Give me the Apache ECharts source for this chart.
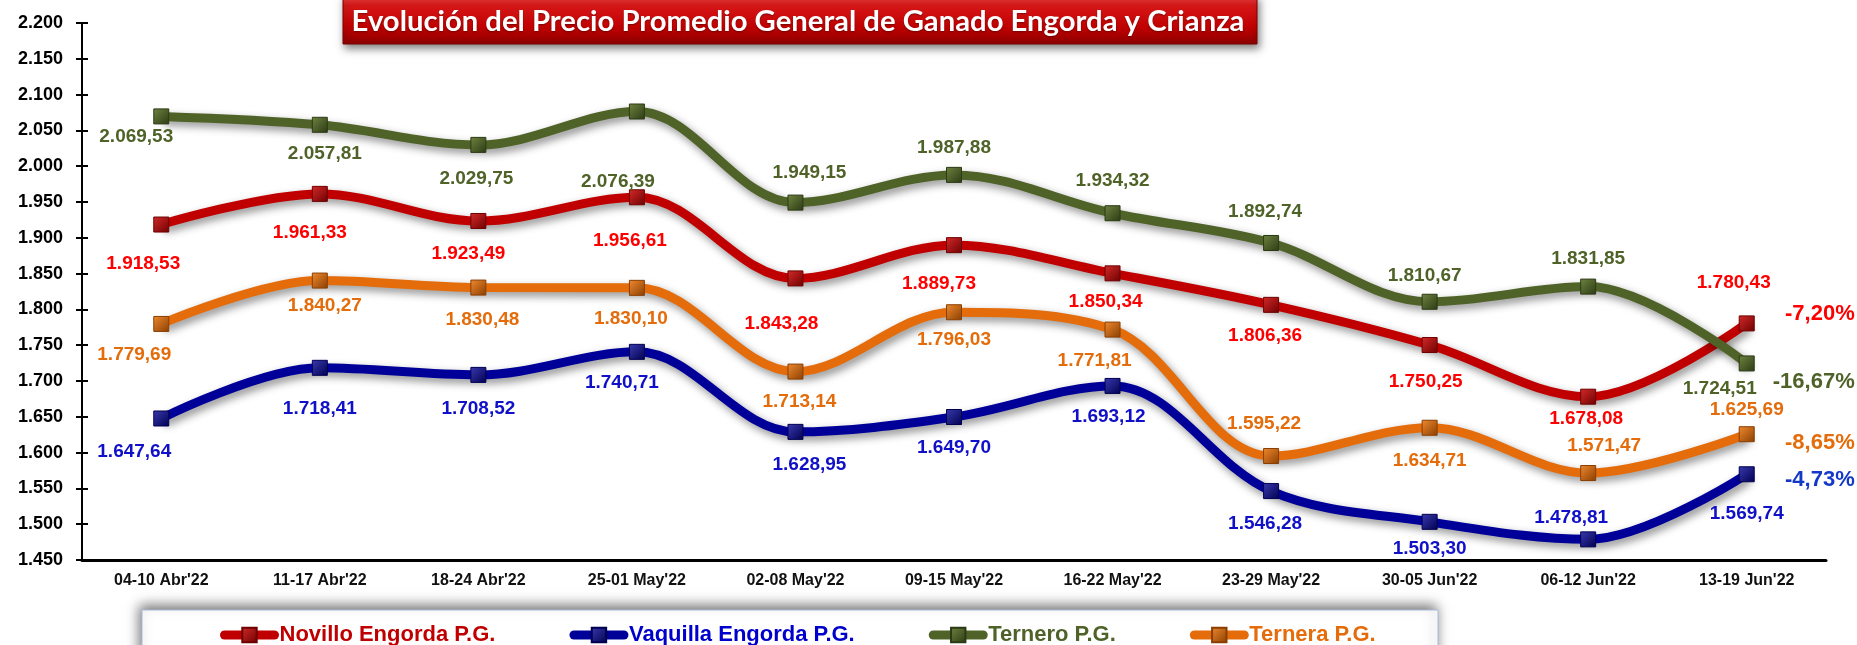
<!DOCTYPE html>
<html lang="es">
<head>
    <meta charset="UTF-8">
    <title>Evolución del Precio Promedio General de Ganado Engorda y Crianza</title>
    <script src="https://cdn.jsdelivr.net/npm/echarts@6/dist/echarts.min.js"></script>
    <style>
        body { margin: 0; background: #fff; }
        #chart { width: 1857px; height: 645px; }
    </style>
</head>
<body>
<div id="chart"></div>
<script type="text/javascript">
    var semanas = ["04-10 Abr'22", "11-17 Abr'22", "18-24 Abr'22", "25-01 May'22", "02-08 May'22", "09-15 May'22",
        "16-22 May'22", "23-29 May'22", "30-05 Jun'22", "06-12 Jun'22", "13-19 Jun'22"];

    var novillo = [1918.53, 1961.33, 1923.49, 1956.61, 1843.28, 1889.73, 1850.34, 1806.36, 1750.25, 1678.08, 1780.43];
    var vaquilla = [1647.64, 1718.41, 1708.52, 1740.71, 1628.95, 1649.70, 1693.12, 1546.28, 1503.30, 1478.81, 1569.74];
    var ternero = [2069.53, 2057.81, 2029.75, 2076.39, 1949.15, 1987.88, 1934.32, 1892.74, 1810.67, 1831.85, 1724.51];
    var ternera = [1779.69, 1840.27, 1830.48, 1830.10, 1713.14, 1796.03, 1771.81, 1595.22, 1634.71, 1571.47, 1625.69];

    // posicion de cada etiqueta respecto al punto [dx, dy]
    var offNovillo = [[-18, 39], [-10, 39], [-10, 33], [-7, 43], [-14, 45], [-15, 39], [-7, 28], [-6, 31], [-4, 37], [-2, 22], [-13, -41]];
    var offVaquilla = [[-27, 33], [0, 41], [0, 34], [-15, 31], [14, 33], [0, 31], [-4, 31], [-6, 33], [0, 27], [-17, -22], [0, 39]];
    var offTernero = [[-25, 20], [5, 29], [-2, 34], [-19, 70], [14, -30], [0, -27], [0, -32], [-6, -31], [-5, -26], [0, -28], [-27, 25]];
    var offTernera = [[-27, 31], [5, 25], [4, 32], [-6, 31], [4, 30], [0, 28], [-18, 31], [-7, -32], [0, 33], [16, -27], [0, -24]];

    var FONT = '"Liberation Sans", Arial, sans-serif';

    function fmt(v) {
        var s = v.toFixed(2).split('.');
        return s[0].replace(/\B(?=(\d{3})+(?!\d))/g, '.') + ',' + s[1];
    }

    function variacion(arr) {
        var p = (arr[arr.length - 1] / arr[0] - 1) * 100;
        return p.toFixed(2).replace('.', ',') + '%';
    }

    function serie(nombre, valores, offsets, linea, marca, texto, pctColor, pctDy) {
        var last = valores.length - 1;
        return {
            name: nombre,
            type: 'line',
            smooth: 0.35,
            symbol: 'rect',
            symbolSize: 15,
            color: linea,
            lineStyle: {
                width: 9,
                color: linea,
                shadowColor: 'rgba(0,0,0,0.45)',
                shadowBlur: 8,
                shadowOffsetX: 3,
                shadowOffsetY: 4
            },
            itemStyle: {
                color: {
                    type: 'linear', x: 0, y: 0, x2: 1, y2: 1,
                    colorStops: [{offset: 0, color: marca[0]}, {offset: 1, color: marca[1]}]
                },
                borderColor: marca[1],
                borderWidth: 1
            },
            label: {
                show: true,
                position: 'inside',
                color: texto,
                fontFamily: FONT,
                fontWeight: 'bold',
                fontSize: 19,
                formatter: function (p) { return fmt(p.value); }
            },
            data: valores.map(function (v, i) {
                return {value: v, label: {offset: offsets[i]}};
            }),
            markPoint: {
                symbol: 'rect',
                symbolSize: 1,
                itemStyle: {color: 'rgba(0,0,0,0)'},
                label: {
                    show: true,
                    position: 'inside',
                    align: 'right',
                    verticalAlign: 'middle',
                    offset: [108, pctDy],
                    color: pctColor,
                    fontFamily: FONT,
                    fontWeight: 'bold',
                    fontSize: 22,
                    formatter: variacion(valores)
                },
                data: [{coord: [last, valores[last]], value: 0}]
            }
        };
    }

    var titulo = 'Evolución del Precio Promedio General de Ganado Engorda y Crianza';
    var tituloFont = 'Lato, "Open Sans", sans-serif';
    var ctx = document.createElement('canvas').getContext('2d');
    ctx.font = 'bold 30px ' + tituloFont;
    var tituloSize = Math.min(32, 30 * 893 / ctx.measureText(titulo).width);

    var myChart = echarts.init(document.getElementById('chart'));
    var option = {
        animation: false,
        backgroundColor: '#fff',
        grid: {left: 82, right: 31, top: 23, bottom: 85},
        graphic: [
            {
                type: 'rect',
                z: 0,
                shape: {x: 142, y: 610, width: 1296, height: 60},
                style: {
                    fill: '#fff',
                    stroke: '#a9bbdb',
                    lineWidth: 1,
                    shadowColor: 'rgba(0,0,0,0.55)',
                    shadowBlur: 12,
                    shadowOffsetX: -2,
                    shadowOffsetY: -4
                }
            },
            {
                type: 'rect',
                z: 10,
                shape: {x: 343, y: -4, width: 914, height: 48},
                style: {
                    fill: {
                        type: 'linear', x: 0, y: 0, x2: 0, y2: 1,
                        colorStops: [
                            {offset: 0, color: '#f04848'},
                            {offset: 0.2, color: '#d81818'},
                            {offset: 0.65, color: '#c00000'},
                            {offset: 1, color: '#8c0000'}
                        ]
                    },
                    stroke: '#7a0000',
                    lineWidth: 1,
                    shadowColor: 'rgba(0,0,0,0.5)',
                    shadowBlur: 8,
                    shadowOffsetX: 2,
                    shadowOffsetY: 4
                }
            },
            {
                type: 'text',
                z: 11,
                style: {
                    text: titulo,
                    x: 798,
                    y: 22,
                    align: 'center',
                    verticalAlign: 'middle',
                    fill: '#fff',
                    fontFamily: tituloFont,
                    fontWeight: 'bold',
                    fontSize: tituloSize,
                    textShadowColor: 'rgba(0,0,0,0.4)',
                    textShadowBlur: 2,
                    textShadowOffsetY: 1
                }
            }
        ],
        legend: {
            left: 215,
            top: 619,
            itemWidth: 50,
            itemHeight: 18,
            itemGap: 74,
            lineStyle: {width: 9, cap: 'round'},
            textStyle: {fontFamily: FONT, fontWeight: 'bold', fontSize: 22},
            data: [
                {name: 'Novillo Engorda P.G.', textStyle: {color: '#c00000'}},
                {name: 'Vaquilla Engorda P.G.', textStyle: {color: '#0000cc'}},
                {name: 'Ternero P.G.', textStyle: {color: '#4f6228'}},
                {name: 'Ternera P.G.', textStyle: {color: '#e46c0a'}}
            ]
        },
        xAxis: {
            type: 'category',
            boundaryGap: true,
            data: semanas,
            axisLine: {lineStyle: {color: '#000', width: 3}},
            axisTick: {show: false},
            axisLabel: {
                interval: 0,
                margin: 13,
                color: '#111',
                fontFamily: FONT,
                fontWeight: 'bold',
                fontSize: 16
            }
        },
        yAxis: [
            {
                type: 'value',
                position: 'left',
                min: 1450,
                max: 2200,
                interval: 50,
                splitLine: {show: false},
                axisLine: {show: true, lineStyle: {color: '#000', width: 2}},
                axisTick: {show: true, length: 6, lineStyle: {color: '#000', width: 2}},
                axisLabel: {
                    margin: 19,
                    color: '#000',
                    fontFamily: FONT,
                    fontWeight: 'bold',
                    fontSize: 18,
                    formatter: function (v) { return fmt(v).split(',')[0]; }
                }
            },
            {
                type: 'value',
                position: 'left',
                min: 1450,
                max: 2200,
                interval: 50,
                splitLine: {show: false},
                axisLine: {show: false},
                axisTick: {show: true, inside: true, length: 6, lineStyle: {color: '#000', width: 2}},
                axisLabel: {show: false}
            }
        ],
        series: [
            serie('Novillo Engorda P.G.', novillo, offNovillo, '#c00000', ['#d42a2a', '#6e0000'], '#ff0000', '#ff0000', -9),
            serie('Vaquilla Engorda P.G.', vaquilla, offVaquilla, '#000099', ['#3a3ab0', '#000050'], '#1010c8', '#1438c8', 6),
            serie('Ternero P.G.', ternero, offTernero, '#4f6228', ['#6f8440', '#2c3a14'], '#4f6228', '#4f6228', 18),
            serie('Ternera P.G.', ternera, offTernera, '#e46c0a', ['#f08a30', '#8a3e00'], '#e46c0a', '#e46c0a', 9)
        ]
    };
    myChart.setOption(option);
</script>
</body>
</html>
